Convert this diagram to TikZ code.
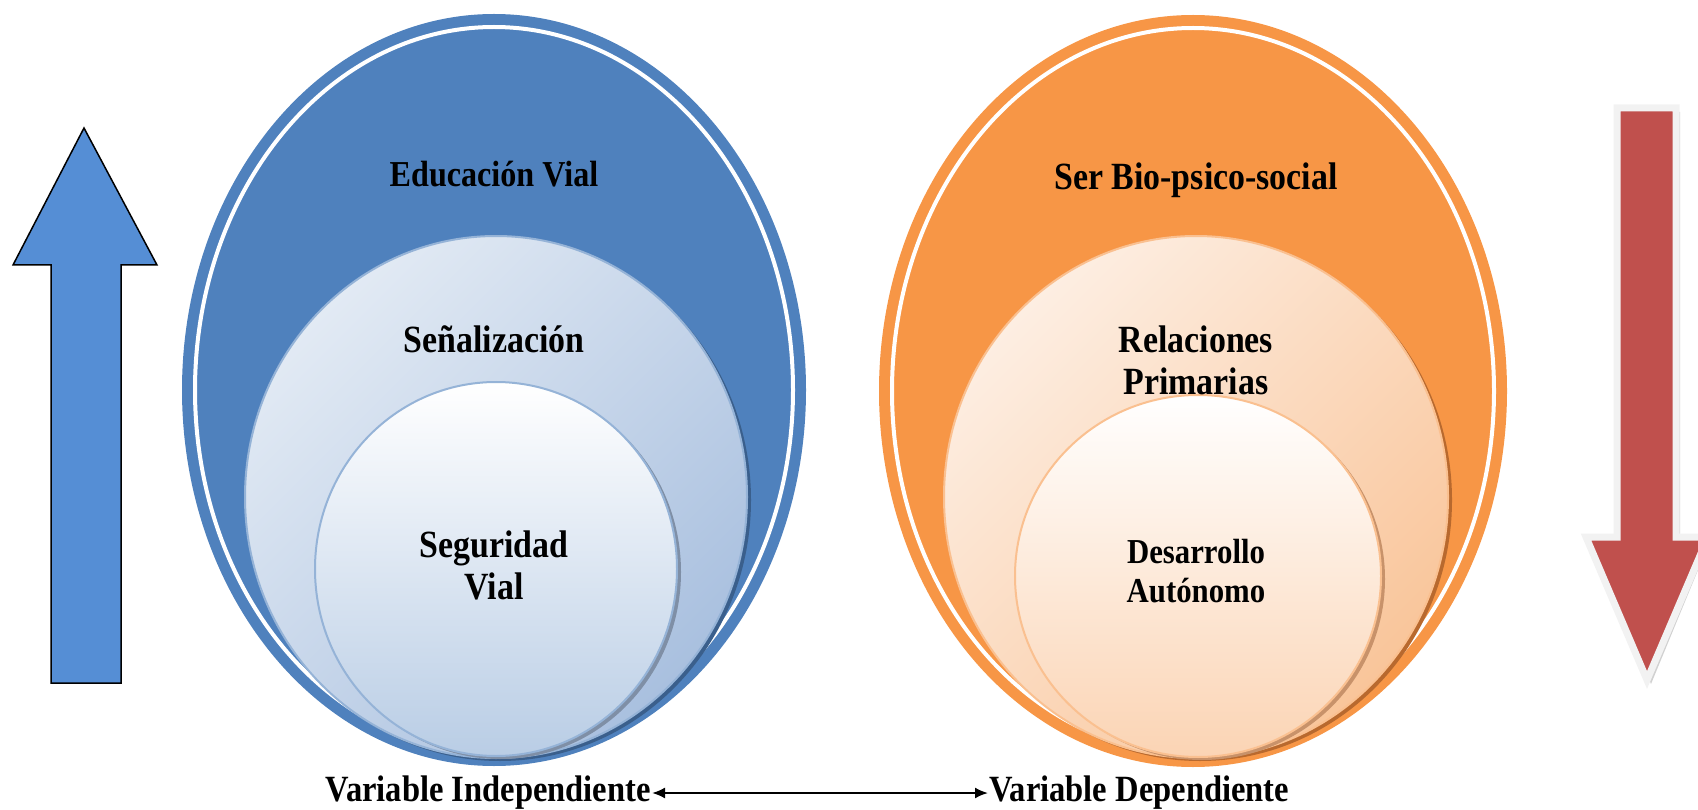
\documentclass[tikz,border=0pt]{standalone}
\usepackage{fontspec}
\setmainfont[FakeStretch=0.88]{Liberation Serif}
\usetikzlibrary{arrows.meta}
\definecolor{vblue}{HTML}{4F81BD}
\definecolor{vorange}{HTML}{F79646}
\definecolor{arrblue}{HTML}{558ED5}
\definecolor{arrred}{HTML}{C0504D}
\definecolor{bmidA}{HTML}{E2EAF4}
\definecolor{bmidB}{HTML}{A9C0DF}
\definecolor{binB}{HTML}{B9CDE5}
\definecolor{bline}{HTML}{95B3D7}
\definecolor{bshadow}{HTML}{3A5F8C}
\definecolor{bishadow}{HTML}{7F8FA6}
\definecolor{omidA}{HTML}{FDEEE2}
\definecolor{omidB}{HTML}{F9C59A}
\definecolor{oinB}{HTML}{FBD4B4}
\definecolor{oline}{HTML}{FAC090}
\definecolor{oshadow}{HTML}{B8692E}
\definecolor{oishadow}{HTML}{C8926A}
\tikzset{
  lbl/.style={font=\bfseries\fontsize{38.5}{42}\selectfont, align=center, text=black, inner sep=0pt},
  lbltop/.style={font=\bfseries\fontsize{36.5}{42}\selectfont, align=center, text=black, inner sep=0pt},
  lblsm/.style={font=\bfseries\fontsize{35}{39}\selectfont, align=center, text=black, inner sep=0pt},
  btm/.style={font=\bfseries\fontsize{37}{40}\selectfont, text=black, inner sep=1pt},
}
\begin{document}
\begin{tikzpicture}[x=1pt,y=-1pt]
\useasboundingbox (0,0) rectangle (1698,810);

% ---------- left group ----------
\fill[vblue] (494,390) ellipse [x radius=312pt, y radius=376pt];
\draw[white, line width=4pt] (494,390) ellipse [x radius=299pt, y radius=363pt];
\fill[bshadow] (500,500) ellipse [x radius=251pt, y radius=261pt];
\shadedraw[top color=bmidA, bottom color=bmidB, shading angle=45, draw=bline, line width=2pt]
  (496,497) ellipse [x radius=251pt, y radius=261pt];
\fill[bishadow] (500,572) ellipse [x radius=181pt, y radius=187pt];
\shadedraw[top color=white, bottom color=binB, draw=bline, line width=2pt]
  (496,569) ellipse [x radius=181pt, y radius=187pt];

\node[lbltop] (ev) at (494,174) {Educación Vial};
\node[lbl] (se) at (494,339) {Señalización};
\node[lbl] (sv) at (494,565) {Seguridad\\Vial};

% ---------- right group ----------
\fill[vorange] (1193,391) ellipse [x radius=314pt, y radius=376pt];
\draw[white, line width=4pt] (1193,391) ellipse [x radius=301pt, y radius=363pt];
\fill[oshadow] (1200,500) ellipse [x radius=252pt, y radius=261pt];
\shadedraw[top color=omidA, bottom color=omidB, shading angle=45, draw=oline, line width=2pt]
  (1196,497) ellipse [x radius=252pt, y radius=261pt];
\fill[oishadow] (1202,579) ellipse [x radius=183pt, y radius=181pt];
\shadedraw[top color=white, bottom color=oinB, draw=oline, line width=2pt]
  (1198,576) ellipse [x radius=183pt, y radius=181pt];

\node[lbl] (sb) at (1196,180) {Ser Bio-psico-social};
\node[lbl] (rp) at (1196,360) {Relaciones\\Primarias};
\node[lblsm] (da) at (1196,571) {Desarrollo\\Autónomo};

% ---------- side arrows ----------
\draw[fill=arrblue, draw=black, line width=1.5pt, line join=miter]
  (84,128) -- (157,265) -- (121,265) -- (121,683) -- (51,683) -- (51,265) -- (13,265) -- cycle;

\fill[black!30, opacity=0.6]
  (1621,112) -- (1680,112) -- (1680,541) -- (1710,541) -- (1651,684) -- (1592,541) -- (1621,541) -- cycle;
\draw[fill=arrred, draw=black!5, line width=7pt, line join=miter]
  (1617,108) -- (1676,108) -- (1676,537) -- (1708,537) -- (1647,680) -- (1586,537) -- (1617,537) -- cycle;

% ---------- bottom labels ----------
\node[btm, anchor=east] (vi) at (652,793) {Variable Independiente};
\node[btm, anchor=west] (vd) at (988,793) {Variable Dependiente};
\draw[{Latex[length=13pt,width=11pt]}-{Latex[length=13pt,width=11pt]}, line width=2pt]
  (vi.east) -- (vd.west);
\end{tikzpicture}
\end{document}
